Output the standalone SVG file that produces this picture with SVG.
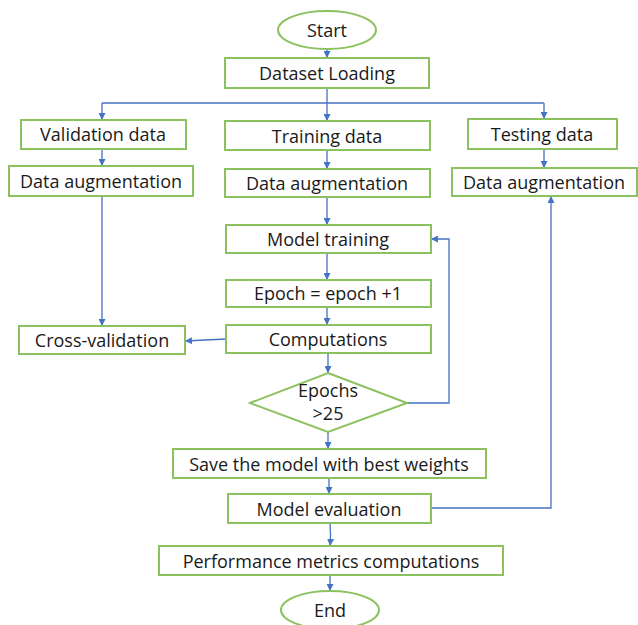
<svg xmlns="http://www.w3.org/2000/svg" width="638" height="625" viewBox="0 0 638 625">
<defs>
<marker id="ah" viewBox="0 0 10 10" refX="10" refY="5" markerWidth="7" markerHeight="7" markerUnits="userSpaceOnUse" orient="auto">
<path d="M0,0 L10,5 L0,10 z" fill="#4472C4"/>
</marker>
<style>
.n{fill:#fff;stroke:#8CC15F;stroke-width:2}
.t{font-family:"Open Sans","Liberation Sans",Arial,sans-serif;font-size:18px;fill:#1a1a1a;text-anchor:middle;dominant-baseline:central}
.c{fill:none;stroke:#4472C4;stroke-width:1.3}
.a{marker-end:url(#ah)}
</style>
</defs>
<rect width="638" height="625" fill="#fff"/>
<g id="connectors">
<path class="c a" d="M327,49 V58"/>
<path class="c" d="M327,88 V103"/>
<path class="c" d="M102,103 H544"/>
<path class="c a" d="M102,103 V120"/>
<path class="c a" d="M327,103 V121"/>
<path class="c a" d="M544,103 V119"/>
<path class="c a" d="M102,149 V166"/>
<path class="c a" d="M327,150 V169"/>
<path class="c a" d="M544,149 V168"/>
<path class="c a" d="M327,197 V225"/>
<path class="c a" d="M327,253 V280"/>
<path class="c a" d="M327,307 V325"/>
<path class="c a" d="M102,196 V326"/>
<path class="c a" d="M226,339 L185,341"/>
<path class="c a" d="M328,353 V373"/>
<path class="c a" d="M407,403 H449 V239 H431"/>
<path class="c a" d="M328,432 V449"/>
<path class="c a" d="M329,478 V494"/>
<path class="c a" d="M330,523 Q331,535 330,546"/>
<path class="c a" d="M330,575 V591"/>
<path class="c a" d="M431,508 H551 V196"/>
</g>
<g id="start"><ellipse class="n" cx="327" cy="30" rx="49" ry="19"/><text class="t" x="327" y="30">Start</text></g>
<g id="dataset"><rect class="n" x="225" y="58" width="204" height="30"/><text class="t" x="327" y="73">Dataset Loading</text></g>
<g id="valdata"><rect class="n" x="21" y="120" width="165" height="29"/><text class="t" x="103" y="134">Validation data</text></g>
<g id="traindata"><rect class="n" x="225" y="121" width="205" height="29"/><text class="t" x="327" y="136">Training data</text></g>
<g id="testdata"><rect class="n" x="468" y="119" width="149" height="30"/><text class="t" x="542" y="134">Testing data</text></g>
<g id="valaug"><rect class="n" x="9" y="166" width="184" height="30"/><text class="t" x="101" y="181">Data augmentation</text></g>
<g id="trainaug"><rect class="n" x="225" y="169" width="205" height="28"/><text class="t" x="327" y="183">Data augmentation</text></g>
<g id="testaug"><rect class="n" x="452" y="168" width="185" height="28"/><text class="t" x="544" y="182">Data augmentation</text></g>
<g id="training"><rect class="n" x="226" y="225" width="205" height="28"/><text class="t" x="328" y="239">Model training</text></g>
<g id="epoch"><rect class="n" x="226" y="280" width="205" height="27"/><text class="t" x="328" y="293">Epoch = epoch +1</text></g>
<g id="comp"><rect class="n" x="226" y="325" width="205" height="28"/><text class="t" x="328" y="339">Computations</text></g>
<g id="crossval"><rect class="n" x="19" y="326" width="166" height="28"/><text class="t" x="102" y="340">Cross-validation</text></g>
<g id="decision"><path class="n" d="M328,373 L407,403 L328,432 L250,403 z"/><text class="t" x="328" y="390">Epochs</text><text class="t" x="328" y="413">&gt;25</text></g>
<g id="save"><rect class="n" x="173" y="449" width="313" height="29"/><text class="t" x="329" y="464">Save the model with best weights</text></g>
<g id="eval"><rect class="n" x="228" y="494" width="203" height="29"/><text class="t" x="329" y="509">Model evaluation</text></g>
<g id="perf"><rect class="n" x="159" y="546" width="344" height="29"/><text class="t" x="331" y="561">Performance metrics computations</text></g>
<g id="end"><ellipse class="n" cx="330" cy="610" rx="49" ry="19"/><text class="t" x="330" y="610">End</text></g>
</svg>
